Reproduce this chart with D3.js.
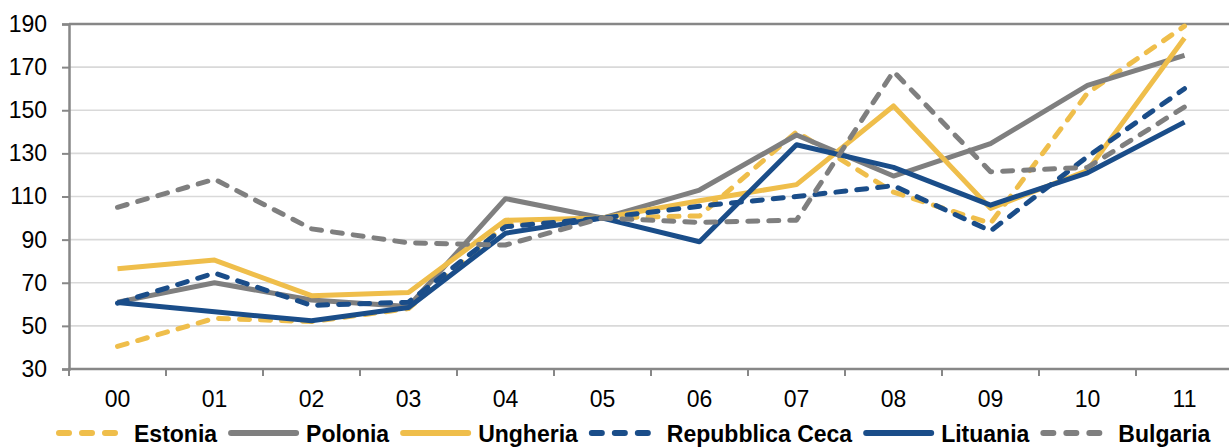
<!DOCTYPE html>
<html>
<head>
<meta charset="utf-8">
<script src="https://cdn.jsdelivr.net/npm/d3@7"></script>
<style>
  body { margin: 0; background: #fff; }
  svg { display: block; font-family: "Liberation Sans", Arial, sans-serif; }
</style>
</head>
<body>
<svg id="chart" width="1229" height="447"></svg>
<script>
// anni (asse x)
var years = ["00", "01", "02", "03", "04", "05", "06", "07", "08", "09", "10", "11"];
var yTicks = [30, 50, 70, 90, 110, 130, 150, 170, 190];

var estonia   = [40.5, 53.5, 52, 58, 97, 100, 101, 140, 112, 97.5, 158, 189];
var polonia   = [61, 70, 62, 59, 109, 100, 113, 138.5, 119.5, 134.5, 161.5, 175.5];
var ungheria  = [76.5, 80.5, 64, 65.5, 99, 100, 108, 115.5, 152, 104.5, 122, 183.5];
var repCeca   = [60.5, 74.5, 59.5, 61, 96, 100, 105.5, 110, 115, 94, 128.5, 160];
var lituania  = [60.8, 56.5, 52.4, 58.5, 93, 100, 89, 134, 123.5, 106, 121, 144.5];
var bulgaria  = [105, 118, 95, 88.5, 87.5, 100, 98, 99, 168, 121.5, 123.5, 151.5];

var seriesNames = ["Estonia", "Polonia", "Ungheria", "Repubblica Ceca", "Lituania", "Bulgaria"];
var seriesValues = [estonia, polonia, ungheria, repCeca, lituania, bulgaria];
var seriesColors = ["#efbe4b", "#7f7f7f", "#efbe4b", "#1a4d89", "#1a4d89", "#7f7f7f"];
var seriesDashed = [true, false, false, true, false, true];

var svg = d3.select("#chart");
var plotLeft = 69, plotRight = 1233, plotTop = 24, plotBottom = 369;

var x = d3.scaleBand().domain(years).range([plotLeft, plotRight]);
var y = d3.scaleLinear().domain([30, 190]).range([plotBottom, plotTop]);

// griglia
svg.append("g")
    .selectAll("line")
    .data(yTicks.slice(1, -1))
    .join("line")
    .attr("x1", plotLeft).attr("x2", 1229)
    .attr("y1", function(d) { return y(d); })
    .attr("y2", function(d) { return y(d); })
    .attr("stroke", "#d9d9d9")
    .attr("stroke-width", 1.6);

// bordo superiore
svg.append("line")
    .attr("x1", plotLeft).attr("x2", 1229)
    .attr("y1", y(190)).attr("y2", y(190))
    .attr("stroke", "#878787").attr("stroke-width", 2.5);

// asse y
var yAxis = svg.append("g")
    .attr("transform", "translate(" + plotLeft + ",0)")
    .call(d3.axisLeft(y).tickValues(yTicks).tickSize(7).tickPadding(15));
yAxis.select(".domain").attr("stroke", "#878787").attr("stroke-width", 2.5);
yAxis.selectAll(".tick line").attr("stroke", "#878787").attr("stroke-width", 2);
yAxis.selectAll("text")
    .attr("font-size", 23).attr("fill", "#000")
    .attr("font-family", "'Liberation Sans', Arial, sans-serif");

// asse x: tacche tra le categorie
var xAxisG = svg.append("g");
xAxisG.append("line")
    .attr("x1", plotLeft - 1).attr("x2", 1229)
    .attr("y1", plotBottom).attr("y2", plotBottom)
    .attr("stroke", "#878787").attr("stroke-width", 2.5);
xAxisG.selectAll(".xt")
    .data(years)
    .join("line")
    .attr("class", "xt")
    .attr("x1", function(d) { return x(d); })
    .attr("x2", function(d) { return x(d); })
    .attr("y1", plotBottom).attr("y2", plotBottom + 7)
    .attr("stroke", "#878787").attr("stroke-width", 2);
xAxisG.selectAll(".xl")
    .data(years)
    .join("text")
    .attr("class", "xl")
    .attr("x", function(d) { return x(d) + x.bandwidth() / 2; })
    .attr("y", 406.5)
    .attr("text-anchor", "middle")
    .attr("font-size", 23)
    .text(function(d) { return d; });

// linee
var line = d3.line()
    .x(function(d, i) { return x(years[i]) + x.bandwidth() / 2; })
    .y(function(d) { return y(d); });

seriesValues.forEach(function(vals, i) {
    svg.append("path")
        .datum(vals)
        .attr("d", line)
        .attr("fill", "none")
        .attr("stroke", seriesColors[i])
        .attr("stroke-width", 5)
        .attr("stroke-linejoin", "round")
        .attr("stroke-linecap", seriesDashed[i] ? "round" : "butt")
        .attr("stroke-dasharray", seriesDashed[i] ? "10,11" : null);
});

// legenda
var legend = svg.append("g");
var textX = 134;
seriesNames.forEach(function(name, i) {
    var g = legend.append("g");
    g.append("line")
        .attr("x1", textX - 75).attr("x2", textX - 10)
        .attr("y1", 433).attr("y2", 433)
        .attr("stroke", seriesColors[i])
        .attr("stroke-width", 6)
        .attr("stroke-linecap", "round")
        .attr("stroke-dasharray", seriesDashed[i] ? "10,13" : null);
    var t = g.append("text")
        .attr("x", textX).attr("y", 441.5)
        .attr("font-size", 23)
        .attr("font-weight", "bold")
        .text(name);
    textX += t.node().getComputedTextLength() + 89;
});
</script>
</body>
</html>
